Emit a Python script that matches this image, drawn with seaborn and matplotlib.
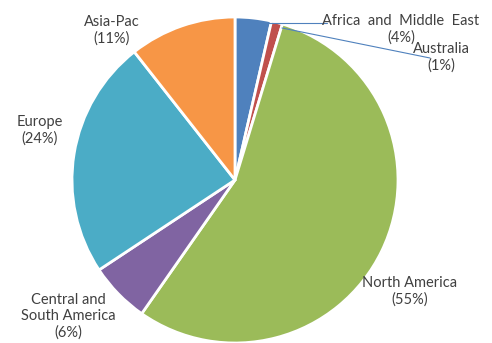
import matplotlib
matplotlib.use("Agg")
import matplotlib.pyplot as plt
import matplotlib.transforms as mtransforms
import seaborn as sns

regions = ["Africa  and  Middle  East", "Australia", "North America",
           "Central and\nSouth America", "Europe", "Asia-Pac"]
shares = [3.6, 1.1, 55.0, 6.0, 23.7, 10.6]
colors = ["#4F81BD", "#C0504D", "#9BBB59", "#8064A2", "#4BACC6", "#F79646"]

# label anchor points (figure pixels, origin top-left)
label_xy = [(401, 29), (441, 57), (410, 291), (68, 316), (40, 130), (112, 30)]
# leader lines for the two thin wedges
leaders = {0: ((327, 23), (268, 23)), 1: ((430, 58), (282, 28))}

sns.set_theme(style="white")
plt.rcParams["font.family"] = ["Lato", "DejaVu Sans"]

W, H = 492, 343
fig = plt.figure(figsize=(W / 100, H / 100), dpi=100)
ax = fig.add_axes([0, 0, 1, 1])

cx, cy, r = 235, 180, 163
wedges, _ = ax.pie(shares, colors=colors, startangle=90, counterclock=False,
                   center=(cx, -cy), radius=r,
                   wedgeprops=dict(edgecolor="white", linewidth=2))
# pie draws in y-up coordinates; flip wedges into the y-down frame
flip = mtransforms.Affine2D().scale(1, -1) + ax.transData
for w in wedges:
    w.set_transform(flip)
ax.set_xlim(0, W)
ax.set_ylim(H, 0)
ax.set_aspect("equal")
ax.axis("off")

total = sum(shares)
for i, (name, val) in enumerate(zip(regions, shares)):
    x, y = label_xy[i]
    ax.text(x, y, f"{name}\n({round(val / total * 100)}%)", ha="center",
            va="center", fontsize=10.5, color="#404040", linespacing=1.2)

for i, (p0, p1) in leaders.items():
    ax.plot([p0[0], p1[0]], [p0[1], p1[1]], color="#4F81BD", lw=0.8)

fig.savefig("out.png", dpi=100)
